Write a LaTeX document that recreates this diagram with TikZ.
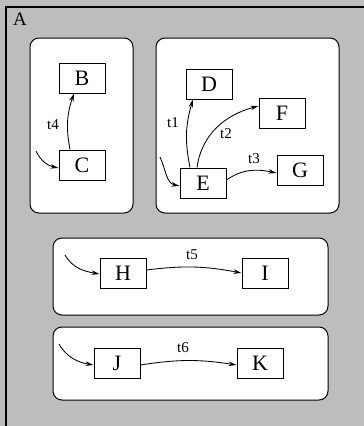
\documentclass[tikz,border=0pt]{standalone}
\usepackage{fontspec}
\setmainfont{Liberation Serif}
\usetikzlibrary{arrows.meta}
\begin{document}
\begin{tikzpicture}[x=1pt,y=-1pt,
  state/.style={draw=black, line width=1pt, fill=white, minimum width=46pt, minimum height=30pt, inner sep=0pt, font=\fontsize{22}{22}\selectfont},
  region/.style={draw=black, line width=1pt, fill=white, rounded corners=9pt},
  tr/.style={draw=black, line width=0.85pt, -{Stealth[length=8pt,width=4.5pt]}},
  lbl/.style={inner sep=0pt, font=\fontsize{15}{15}\selectfont}]
\useasboundingbox (0,0) rectangle (364,426);
\clip (0,0) rectangle (364,426);
\fill[black!26] (0,0) rectangle (364,426);
\draw[line width=1.3pt, fill=black!26] (6,7) rectangle (372,440);
\node[inner sep=0pt, font=\fontsize{19}{19}\selectfont] (A) at (20,19) {A};
% regions
\draw[region] (30,38) rectangle (133,213);
\draw[region] (156,38) rectangle (339,213);
\draw[region] (53,238) rectangle (328,315);
\draw[region] (53,327) rectangle (328,400);
% states
\node[state] (B) at (82,78) {B};
\node[state] (C) at (82,165) {C};
\node[state] (D) at (209,84) {D};
\node[state] (E) at (203,183) {E};
\node[state] (F) at (282,113) {F};
\node[state] (G) at (300,170) {G};
\node[state] (H) at (123,273) {H};
\node[state] (I) at (265,273) {I};
\node[state] (J) at (117,363) {J};
\node[state] (K) at (260,363) {K};
% initial arrows
\coordinate (c0) at (36,151);
\coordinate (e0) at (160,157);
\coordinate (h0) at (65,255);
\coordinate (j0) at (59,344);
\draw[tr] (c0) to[out=-65,in=168] ([yshift=-3pt]C.west);
\draw[tr] (e0) to[out=-65,in=168] ([yshift=-3pt]E.west);
\draw[tr] (h0) to[out=-60,in=170] ([yshift=-1pt]H.west);
\draw[tr] (j0) to[out=-60,in=170] ([yshift=-2pt]J.west);
% transitions
\draw[tr] ([xshift=-12pt]C.north) to[bend left=15] ([xshift=-8pt]B.south);
\draw[tr] ([xshift=-13pt]E.north) to[bend left=14] ([xshift=-16pt]D.south);
\draw[tr] ([xshift=-6pt]E.north) to[out=82,in=195] ([yshift=7pt]F.west);
\draw[tr] ([yshift=3pt]E.east) to[out=35,in=168] ([yshift=-3pt]G.west);
\draw[tr] ([yshift=3pt]H.east) to[bend left=9] ([yshift=0pt]I.west);
\draw[tr] ([yshift=-2pt]J.east) to[bend left=9] ([yshift=-2pt]K.west);
% labels
\node[lbl] (l4) at (53,125) {t4};
\node[lbl] (l1) at (173,123) {t1};
\node[lbl] (l2) at (226,134) {t2};
\node[lbl] (l3) at (254,159) {t3};
\node[lbl] (l5) at (192,255) {t5};
\node[lbl] (l6) at (183,348) {t6};
\end{tikzpicture}
\end{document}
